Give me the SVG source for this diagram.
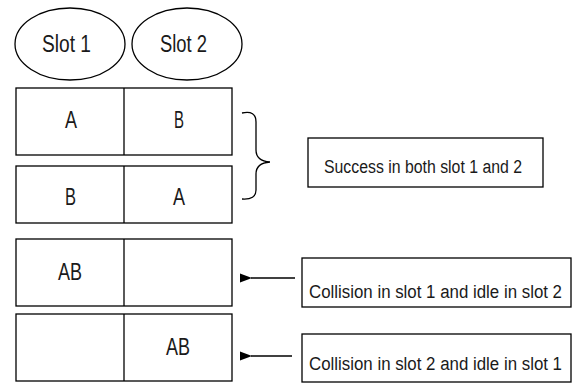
<svg xmlns="http://www.w3.org/2000/svg" width="582" height="383" viewBox="0 0 582 383">
<style>
.sh{fill:#fff;stroke:#000;stroke-width:1.3}
.ln{fill:none;stroke:#000;stroke-width:1.3}
.t{font-family:"Liberation Sans",Arial,sans-serif;fill:#1a1a1a}
.big{font-size:23px}
.lab{font-size:18px}
</style>
<defs>
<marker id="ah" markerWidth="12" markerHeight="10" refX="1" refY="5" orient="auto" markerUnits="userSpaceOnUse">
<path d="M12,0.5 L0,5 L12,9.5 Z" fill="#000"/>
</marker>
</defs>
<g id="slot1"><ellipse class="sh" cx="70" cy="44" rx="55" ry="36"/><text class="t big" x="42" y="52" textLength="49" lengthAdjust="spacingAndGlyphs">Slot 1</text></g>
<g id="slot2"><ellipse class="sh" cx="187" cy="44" rx="55" ry="36"/><text class="t big" x="160" y="52" textLength="47" lengthAdjust="spacingAndGlyphs">Slot 2</text></g>
<g id="row1"><rect class="sh" x="16" y="88" width="216" height="67"/><line class="ln" x1="124" y1="88" x2="124" y2="155"/><text class="t big" x="65" y="128" textLength="12" lengthAdjust="spacingAndGlyphs">A</text><text class="t big" x="174" y="128" textLength="10" lengthAdjust="spacingAndGlyphs">B</text></g>
<g id="row2"><rect class="sh" x="16" y="166" width="216" height="57"/><line class="ln" x1="124" y1="166" x2="124" y2="223"/><text class="t big" x="65" y="205" textLength="11" lengthAdjust="spacingAndGlyphs">B</text><text class="t big" x="173" y="205" textLength="12" lengthAdjust="spacingAndGlyphs">A</text></g>
<g id="row3"><rect class="sh" x="16" y="239" width="216" height="67"/><line class="ln" x1="124" y1="239" x2="124" y2="306"/><text class="t big" x="58" y="280" textLength="24" lengthAdjust="spacingAndGlyphs">AB</text></g>
<g id="row4"><rect class="sh" x="16" y="314" width="216" height="67"/><line class="ln" x1="124" y1="314" x2="124" y2="381"/><text class="t big" x="166" y="355" textLength="24" lengthAdjust="spacingAndGlyphs">AB</text></g>
<g id="success"><rect class="sh" x="308" y="138" width="235" height="49"/><text class="t lab" x="324" y="173" textLength="198" lengthAdjust="spacingAndGlyphs">Success in both slot 1 and 2</text></g>
<g id="coll1"><rect class="sh" x="302" y="258" width="269" height="49"/><text class="t lab" x="309" y="298" textLength="253" lengthAdjust="spacingAndGlyphs">Collision in slot 1 and idle in slot 2</text></g>
<g id="coll2"><rect class="sh" x="302" y="334" width="269" height="48"/><text class="t lab" x="309" y="370" textLength="253" lengthAdjust="spacingAndGlyphs">Collision in slot 2 and idle in slot 1</text></g>
<g id="connectors">
<path class="ln" d="M242,113 Q256,110 256,122 L256,150 Q256,161 270,162 Q256,163 256,174 L256,190 Q256,200 242,199" stroke-width="1"/>
<line class="ln" x1="295" y1="278" x2="251" y2="278" stroke-width="2" marker-end="url(#ah)"/>
<line class="ln" x1="292" y1="356" x2="251" y2="356" stroke-width="2" marker-end="url(#ah)"/>
</g>
</svg>
